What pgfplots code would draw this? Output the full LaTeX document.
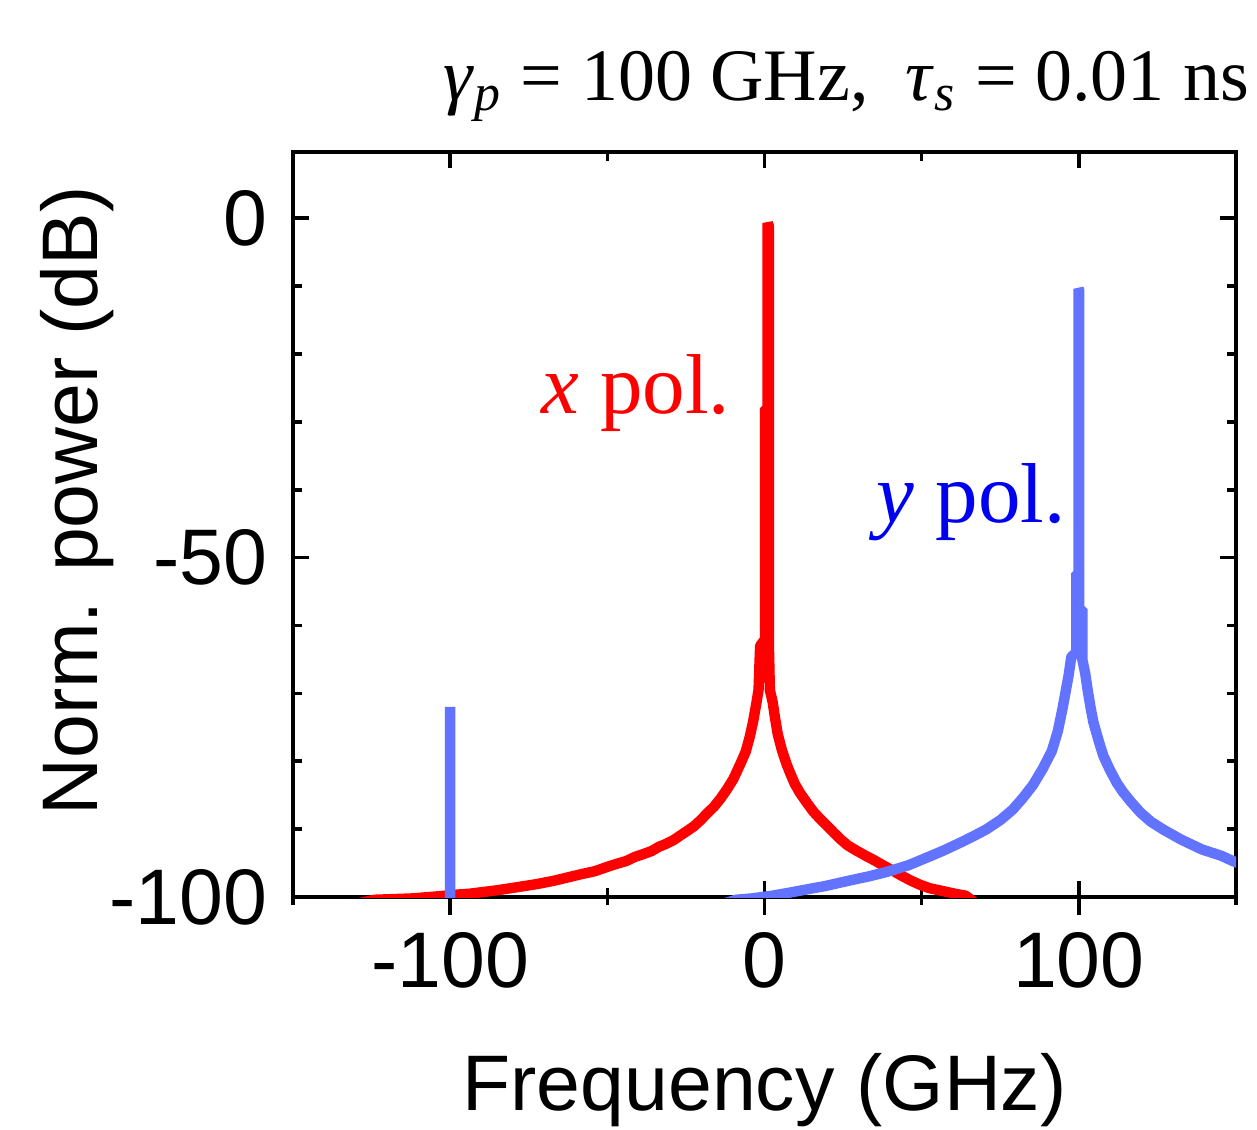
\documentclass[border=0pt]{standalone}
\usepackage{pgfplots}
\pgfplotsset{compat=1.18}
\usepackage{fontspec}
\setmainfont{Liberation Serif}
\newfontfamily\arialfont{Liberation Sans}
\definecolor{polred}{RGB}{255,0,0}
\definecolor{polblue}{RGB}{98,115,255}
\definecolor{txtblue}{RGB}{0,0,240}
\newcommand{\lblfont}{\arialfont\fontsize{19.7}{23}\selectfont}

\begin{document}
\begin{tikzpicture}
% bottom outward ticks
\begin{axis}[
  name=ticks,
  scale only axis, width=235.75pt, height=186.25pt,
  xmin=-150, xmax=150, ymin=-100, ymax=9.75,
  axis x line*=bottom, hide y axis,
  axis line style={line width=1pt},
  tick align=outside,
  xtick={-100,0,100}, minor xtick={-150,-50,50,150},
  xticklabels={},
  major tick length=4.5pt, minor tick length=2pt,
  tick style={black, line width=0.9pt},
]
\addplot[draw=none] coordinates {(0,-50)};
\end{axis}

\begin{axis}[
  at={(ticks.south west)}, anchor=south west,
  scale only axis, width=235.75pt, height=186.25pt,
  xmin=-150, xmax=150, ymin=-100, ymax=9.75,
  clip mode=individual,
  axis line style={line width=1pt},
  tick align=inside,
  xtick={-100,0,100}, xticklabels={-100,0,100},
  minor xtick={-50,50},
  ytick={-100,-50,0}, yticklabels={-100,-50,0},
  minor ytick={-90,-80,-70,-60,-40,-30,-20,-10},
  major tick length=4pt, minor tick length=2.25pt,
  tick style={black, line width=0.9pt},
  tick label style={font=\lblfont, inner sep=0pt},
  xticklabel style={anchor=base, yshift=-22.5pt},
  yticklabel style={anchor=east, xshift=-6.25pt},
  xlabel={Frequency (GHz)}, ylabel={Norm. power (dB)},
  every axis x label/.style={at={(axis description cs:0.5,-0.2859)}, anchor=base, font=\lblfont},
  every axis y label/.style={at={(axis description cs:-0.2078,0.5315)}, rotate=90, anchor=base, font=\lblfont},
]
% x polarization
\addplot[polred, line width=2.6pt, line join=bevel] coordinates {
(-140,-102) (-124,-100.4) (-112,-100.2) (-104,-99.9) (-98,-99.65) (-93.6,-99.5)
(-85,-99.0) (-78,-98.5) (-72.5,-98.1) (-67,-97.6) (-62.5,-97.1) (-58,-96.6)
(-54,-96.2) (-50.3,-95.6) (-47,-95.1) (-44,-94.7) (-41.3,-94.1) (-38.7,-93.7)
(-35.8,-93.2) (-33.6,-92.6) (-31.5,-92.2) (-28.9,-91.6) (-25.7,-90.6) (-22.5,-89.6)
(-20.4,-88.7) (-18.3,-87.7) (-16.1,-86.7) (-14,-85.5) (-11.9,-84.1) (-9.9,-82.6)
(-7.5,-80.2) (-6,-78.6) (-4.7,-76.4) (-3.6,-74.1) (-2.5,-71.2) (-1.9,-69.5)
(-1.4,-63) (0.2,-62) (0.2,-28) (1.0,-28) (1.0,-0.7) (1.4,-1.2) (1.4,-63)
(1.7,-69.5) (2.6,-71.3) (3.3,-73.5) (4.2,-76) (5.5,-78.3) (7,-80.4) (8.3,-81.9)
(9.6,-83.3) (11.2,-84.6) (13.3,-86) (15.5,-87.4) (17.5,-88.4) (19.7,-89.4)
(22,-90.5) (24.2,-91.5) (26.5,-92.4) (29,-93.1) (32.5,-94) (35,-94.6)
(37.6,-95.3) (40,-95.9) (43,-96.7) (46.2,-97.5) (49.5,-98.2) (52.5,-98.7)
(55.5,-99.0) (58.5,-99.3) (61,-99.55) (64,-99.8) (68,-101.2) (80,-104)
};
% y polarization
\addplot[polblue, line width=2.6pt, line join=bevel] coordinates {
(-150,-110) (-100,-110) (-100,-72) (-100,-110) (-20,-102) (-9,-100.4) (-4,-100.2)
(2.5,-99.8) (8.6,-99.3) (14.3,-98.8) (19.1,-98.4) (23.9,-97.9) (28.7,-97.4)
(32.8,-97.0) (38.9,-96.3) (45.9,-95.3) (51.6,-94.2) (56.7,-93.2) (61.8,-92.1)
(66.2,-91.1) (70.7,-90.0) (75.2,-88.6) (79,-87.1) (82.2,-85.4) (85.4,-83.5)
(88.5,-81.1) (91.4,-78.5) (93.3,-75.6) (94.9,-72) (96.8,-67.2) (97.6,-64.6)
(99.2,-64) (99.2,-52.3) (99.9,-52.3) (99.9,-10.4) (100.1,-10.6) (100.1,-57.6)
(101.1,-57.6) (101.1,-65) (102.0,-67) (102.8,-69.5) (103.7,-72) (104.6,-74.2)
(105.7,-76.0) (106.7,-77.6) (107.8,-79.2) (109.9,-81.3) (112.1,-83.2) (114,-84.5)
(116.6,-86) (119.7,-87.6) (122.9,-88.9) (127,-90.1) (132.8,-91.6) (139.2,-93)
(145.2,-93.9) (149,-94.7) (152,-95.2)
};
\node[anchor=base west, text=polred, font=\fontsize{21.25}{25}\selectfont, inner sep=0pt]
  at (axis cs:-71.3,-28.7) {\textit{x} pol.};
\node[anchor=base west, text=txtblue, font=\fontsize{21.25}{25}\selectfont, inner sep=0pt]
  at (axis cs:35.4,-44.9) {\textit{y} pol.};
\node[anchor=base east, font=\fontsize{18.5}{22}\selectfont, inner sep=0pt]
  at (axis description cs:1.0148,1.0698)
  {\textit{γ}\textsubscript{\textit{p}} = 100 GHz,\ \ \textit{τ}\textsubscript{\textit{s}} = 0.01 ns};
\coordinate (bbsw) at (axis description cs:-0.31071,-0.31141);
\coordinate (bbne) at (axis description cs:1.02227,1.20403);
\end{axis}
\pgfresetboundingbox
\path[use as bounding box] (bbsw) rectangle (bbne);
\end{tikzpicture}
\end{document}
